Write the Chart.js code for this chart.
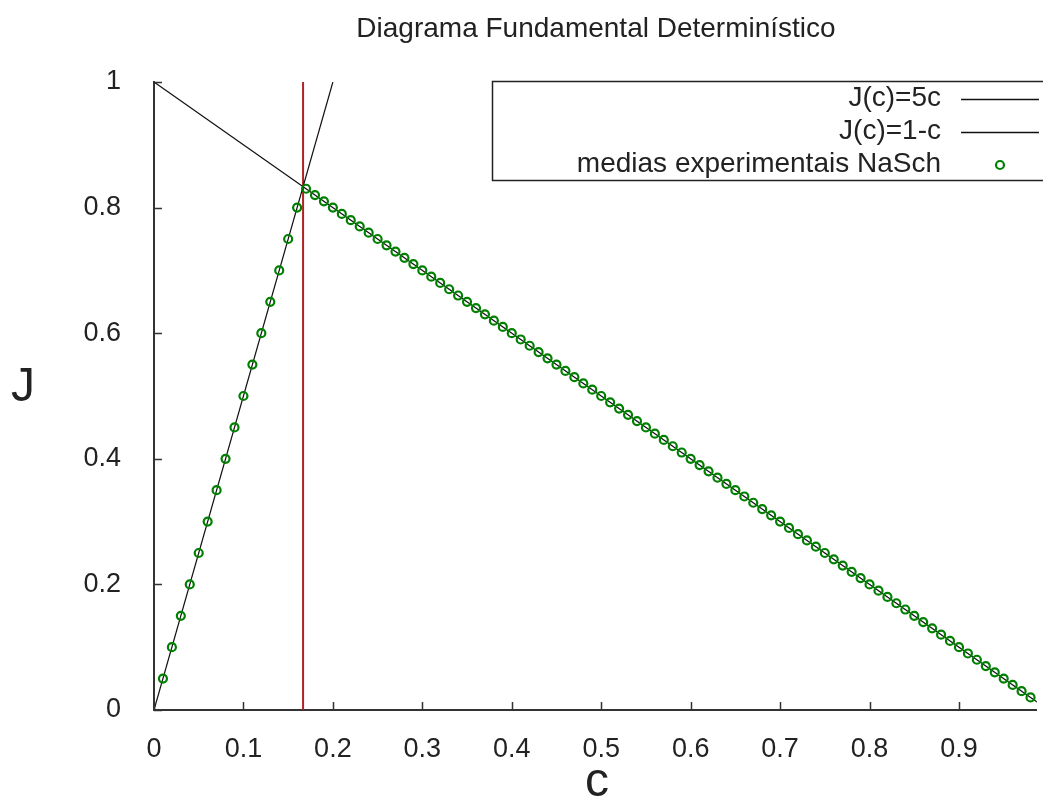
<!DOCTYPE html>
<html>
<head>
<meta charset="utf-8">
<title>Diagrama Fundamental Determinístico</title>
<script src="https://cdn.jsdelivr.net/npm/chart.js@4"></script>
<style>
    html, body { margin: 0; padding: 0; background: #fff; }
    #wrap { width: 1043px; height: 801px; }
</style>
</head>
<body>
<div id="wrap"><canvas id="fundChart" width="1043" height="801"></canvas></div>
<script>
// densidade c (eixo x) das medias NaSch
const density = [
    0.01, 0.02, 0.03, 0.04, 0.05, 0.06, 0.07, 0.08, 0.09, 0.10,
    0.11, 0.12, 0.13, 0.14, 0.15, 0.16, 0.17, 0.18, 0.19, 0.20,
    0.21, 0.22, 0.23, 0.24, 0.25, 0.26, 0.27, 0.28, 0.29, 0.30,
    0.31, 0.32, 0.33, 0.34, 0.35, 0.36, 0.37, 0.38, 0.39, 0.40,
    0.41, 0.42, 0.43, 0.44, 0.45, 0.46, 0.47, 0.48, 0.49, 0.50,
    0.51, 0.52, 0.53, 0.54, 0.55, 0.56, 0.57, 0.58, 0.59, 0.60,
    0.61, 0.62, 0.63, 0.64, 0.65, 0.66, 0.67, 0.68, 0.69, 0.70,
    0.71, 0.72, 0.73, 0.74, 0.75, 0.76, 0.77, 0.78, 0.79, 0.80,
    0.81, 0.82, 0.83, 0.84, 0.85, 0.86, 0.87, 0.88, 0.89, 0.90,
    0.91, 0.92, 0.93, 0.94, 0.95, 0.96, 0.97, 0.98
];
// fluxo J medido
const flux = [
    0.05, 0.10, 0.15, 0.20, 0.25, 0.30, 0.35, 0.40, 0.45, 0.50,
    0.55, 0.60, 0.65, 0.70, 0.75, 0.80, 0.83, 0.82, 0.81, 0.80,
    0.79, 0.78, 0.77, 0.76, 0.75, 0.74, 0.73, 0.72, 0.71, 0.70,
    0.69, 0.68, 0.67, 0.66, 0.65, 0.64, 0.63, 0.62, 0.61, 0.60,
    0.59, 0.58, 0.57, 0.56, 0.55, 0.54, 0.53, 0.52, 0.51, 0.50,
    0.49, 0.48, 0.47, 0.46, 0.45, 0.44, 0.43, 0.42, 0.41, 0.40,
    0.39, 0.38, 0.37, 0.36, 0.35, 0.34, 0.33, 0.32, 0.31, 0.30,
    0.29, 0.28, 0.27, 0.26, 0.25, 0.24, 0.23, 0.22, 0.21, 0.20,
    0.19, 0.18, 0.17, 0.16, 0.15, 0.14, 0.13, 0.12, 0.11, 0.10,
    0.09, 0.08, 0.07, 0.06, 0.05, 0.04, 0.03, 0.02
];
// retas teoricas (pontos extremos)
const lineFiveC = [[0, 0], [0.2, 1]];
const lineOneMinusC = [[0, 1], [1, 0]];
// densidade critica c = 1/6
const criticalLine = [[1 / 6, 0], [1 / 6, 1]];

const xTicks = [0, 0.1, 0.2, 0.3, 0.4, 0.5, 0.6, 0.7, 0.8, 0.9];
const yTicks = [0, 0.2, 0.4, 0.6, 0.8, 1];
const xMax = 0.987;

const FONT = '"Liberation Sans", Arial, sans-serif';
const TEXT = '#222';

const toPoints = (pairs) => pairs.map(p => ({ x: p[0], y: p[1] }));

// ticks para dentro, estilo gnuplot
const innerTicks = {
    id: 'innerTicks',
    afterDatasetsDraw(chart) {
        const { ctx, chartArea, scales } = chart;
        ctx.save();
        ctx.strokeStyle = '#333';
        ctx.lineWidth = 1.5;
        ctx.beginPath();
        xTicks.forEach(v => {
            const px = Math.round(scales.x.getPixelForValue(v)) + 0.5;
            ctx.moveTo(px, chartArea.bottom);
            ctx.lineTo(px, chartArea.bottom - 8);
        });
        yTicks.forEach(v => {
            const py = Math.round(scales.y.getPixelForValue(v)) + 0.5;
            ctx.moveTo(chartArea.left, py);
            ctx.lineTo(chartArea.left + 8, py);
        });
        ctx.stroke();
        ctx.restore();
    }
};

// titulo e rotulos dos eixos
const labels = {
    id: 'labels',
    afterDraw(chart) {
        const { ctx } = chart;
        ctx.save();
        ctx.fillStyle = TEXT;
        ctx.textAlign = 'center';
        ctx.textBaseline = 'alphabetic';
        ctx.font = '28px ' + FONT;
        ctx.fillText('Diagrama Fundamental Determinístico', 596, 37);
        ctx.font = '48px ' + FONT;
        ctx.fillText('J', 23, 401);
        ctx.fillText('c', 597, 796);
        ctx.restore();
    }
};

// caixa de legenda no canto superior direito
const legendBox = {
    id: 'legendBox',
    afterDraw(chart) {
        const { ctx } = chart;
        const sets = chart.data.datasets;
        const rows = [
            { label: sets[1].label, kind: 'line' },
            { label: sets[2].label, kind: 'line' },
            { label: sets[0].label, kind: 'point' }
        ];
        ctx.save();
        ctx.strokeStyle = '#222';
        ctx.lineWidth = 1.5;
        ctx.strokeRect(492.5, 81.5, 560, 99);
        ctx.font = '28px ' + FONT;
        ctx.fillStyle = TEXT;
        ctx.textAlign = 'right';
        ctx.textBaseline = 'middle';
        rows.forEach((r, i) => {
            const y = 99 + i * 33;
            ctx.fillText(r.label, 941, y - 1);
            if (r.kind === 'line') {
                ctx.strokeStyle = '#111';
                ctx.lineWidth = 1.5;
                ctx.beginPath();
                ctx.moveTo(961, y + 0.5);
                ctx.lineTo(1039, y + 0.5);
                ctx.stroke();
            } else {
                ctx.strokeStyle = '#008000';
                ctx.lineWidth = 2.2;
                ctx.beginPath();
                ctx.arc(1000, y, 4, 0, Math.PI * 2);
                ctx.stroke();
            }
        });
        ctx.restore();
    }
};

new Chart(document.getElementById('fundChart'), {
    type: 'scatter',
    data: {
        datasets: [
            {
                label: 'medias experimentais NaSch',
                data: density.map((c, i) => ({ x: c, y: flux[i] })),
                showLine: false,
                pointStyle: 'circle',
                pointRadius: 4,
                pointBorderWidth: 2.2,
                pointBorderColor: '#008000',
                pointBackgroundColor: 'rgba(255,255,255,0)'
            },
            {
                label: 'J(c)=5c',
                data: toPoints(lineFiveC),
                showLine: true,
                borderColor: '#111',
                borderWidth: 1.2,
                pointRadius: 0
            },
            {
                label: 'J(c)=1-c',
                data: toPoints(lineOneMinusC),
                showLine: true,
                borderColor: '#111',
                borderWidth: 1.2,
                pointRadius: 0
            },
            {
                label: 'c*',
                data: toPoints(criticalLine),
                showLine: true,
                borderColor: '#b22222',
                borderWidth: 2,
                pointRadius: 0
            }
        ]
    },
    options: {
        responsive: false,
        animation: false,
        devicePixelRatio: 1,
        layout: { padding: { top: 82, right: 0, bottom: 0, left: 0 } },
        scales: {
            x: {
                type: 'linear',
                min: 0,
                max: xMax,
                afterBuildTicks: (scale) => { scale.ticks = xTicks.map(v => ({ value: v })); },
                afterFit: (scale) => { scale.height = 91; },
                grid: { display: false },
                border: { display: true, color: '#333', width: 2 },
                ticks: {
                    padding: 15,
                    color: TEXT,
                    font: { family: FONT, size: 27 },
                    maxRotation: 0,
                    callback: (v) => String(v)
                }
            },
            y: {
                type: 'linear',
                min: 0,
                max: 1,
                afterBuildTicks: (scale) => { scale.ticks = yTicks.map(v => ({ value: v })); },
                afterFit: (scale) => { scale.width = 154; },
                grid: { display: false },
                border: { display: true, color: '#333', width: 2 },
                ticks: {
                    padding: 25,
                    color: TEXT,
                    font: { family: FONT, size: 27 },
                    callback: (v) => String(v)
                }
            }
        },
        plugins: {
            legend: { display: false },
            title: { display: false },
            tooltip: { enabled: false }
        }
    },
    plugins: [innerTicks, labels, legendBox]
});
</script>
</body>
</html>
